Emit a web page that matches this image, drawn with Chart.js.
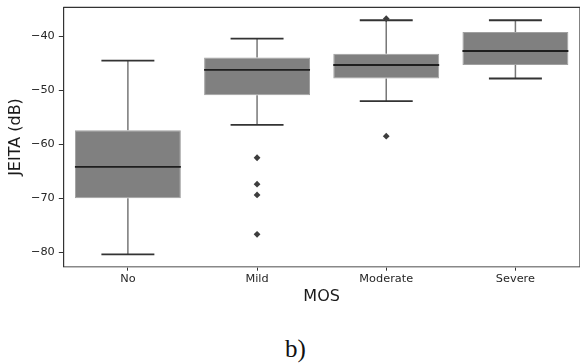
<!DOCTYPE html>
<html>
<head>
<meta charset="utf-8">
<script src="https://cdn.jsdelivr.net/npm/chart.js@4"></script>
<style>
  html, body { margin: 0; padding: 0; background: #fff; width: 580px; height: 364px; overflow: hidden; }
  #wrap { position: relative; width: 580px; height: 364px; }
  canvas { position: absolute; left: 0; top: 0; }
  #caption { position: absolute; left: 285px; top: 336px; font: 25px/25px "Liberation Serif", serif; color: #111; }
</style>
</head>
<body>
<div id="wrap">
  <canvas id="box" width="584" height="310"></canvas>
  <div id="caption">b)</div>
</div>
<script>
// MOS groups and JEITA (dB) box statistics
const categories = ["No", "Mild", "Moderate", "Severe"];
const whiskerLow = [-80.4, -56.4, -52.0, -47.8];
const q1 = [-70.0, -50.9, -47.8, -45.3];
const median = [-64.2, -46.2, -45.3, -42.7];
const q3 = [-57.4, -43.9, -43.2, -39.2];
const whiskerHigh = [-44.5, -40.4, -37.0, -37.0];
const outliers = [
  { x: "Mild", y: -62.5 },
  { x: "Mild", y: -67.4 },
  { x: "Mild", y: -69.4 },
  { x: "Mild", y: -76.7 },
  { x: "Moderate", y: -36.7 },
  { x: "Moderate", y: -58.5 }
];
const yTicks = [-80, -70, -60, -50, -40];

const tickFont = { family: "DejaVu Sans", size: 11.3 };

// whiskers + caps behind the boxes, medians on top of them, frame on top
const boxParts = {
  id: "boxParts",
  beforeDatasetsDraw(chart) {
    const { ctx, scales: { x, y } } = chart;
    const bars = chart.getDatasetMeta(0).data;
    ctx.save();
    categories.forEach((c, i) => {
      const cx = x.getPixelForValue(i);
      const half = bars[i].width / 4;
      ctx.strokeStyle = "#777";
      ctx.lineWidth = 1.5;
      ctx.beginPath();
      ctx.moveTo(cx, y.getPixelForValue(whiskerLow[i]));
      ctx.lineTo(cx, y.getPixelForValue(q1[i]));
      ctx.moveTo(cx, y.getPixelForValue(q3[i]));
      ctx.lineTo(cx, y.getPixelForValue(whiskerHigh[i]));
      ctx.stroke();
      ctx.strokeStyle = "#333";
      ctx.lineWidth = 1.8;
      ctx.beginPath();
      [whiskerLow[i], whiskerHigh[i]].forEach(v => {
        const py = y.getPixelForValue(v);
        ctx.moveTo(cx - half, py);
        ctx.lineTo(cx + half, py);
      });
      ctx.stroke();
    });
    ctx.restore();
  },
  afterDatasetDraw(chart, args) {
    if (args.index !== 0) return;
    const { ctx, scales: { x, y } } = chart;
    const bars = chart.getDatasetMeta(0).data;
    ctx.save();
    ctx.strokeStyle = "#1e1e1e";
    ctx.lineWidth = 1.8;
    ctx.beginPath();
    categories.forEach((c, i) => {
      const cx = x.getPixelForValue(i);
      const half = bars[i].width / 2;
      const py = y.getPixelForValue(median[i]);
      ctx.moveTo(cx - half, py);
      ctx.lineTo(cx + half, py);
    });
    ctx.stroke();
    ctx.restore();
  },
  afterDraw(chart) {
    const { ctx, chartArea: a } = chart;
    ctx.save();
    ctx.strokeStyle = "#333";
    ctx.lineWidth = 1.2;
    ctx.beginPath();
    ctx.moveTo(a.left, a.top);
    ctx.lineTo(a.right, a.top);
    ctx.lineTo(a.right, a.bottom);
    ctx.stroke();
    ctx.restore();
  }
};

new Chart(document.getElementById("box"), {
  type: "bar",
  data: {
    labels: categories,
    datasets: [
      {
        label: "IQR",
        data: categories.map((c, i) => [q1[i], q3[i]]),
        backgroundColor: "#808080",
        borderColor: "#a0a0a0",
        borderWidth: 1,
        borderSkipped: false,
        barPercentage: 0.82,
        categoryPercentage: 1
      },
      {
        type: "scatter",
        label: "outliers",
        data: outliers,
        pointStyle: "rectRot",
        radius: 3.4,
        backgroundColor: "#3d3d3d",
        borderColor: "#3d3d3d",
        borderWidth: 0
      }
    ]
  },
  options: {
    responsive: false,
    animation: false,
    events: [],
    layout: { padding: { top: 7.3, right: 2, left: 0, bottom: 0 } },
    plugins: { legend: { display: false }, tooltip: { enabled: false } },
    scales: {
      x: {
        type: "category",
        offset: true,
        grid: { display: true, offset: false, drawOnChartArea: false, drawTicks: true, tickLength: 4, color: "#333", lineWidth: 1 },
        border: { display: true, color: "#888", width: 1.5 },
        ticks: { font: tickFont, color: "#262626", padding: 2 },
        title: { display: true, text: "MOS", font: { family: "DejaVu Sans", size: 16 }, color: "#1a1a1a", padding: { top: 0, bottom: 4 } },
        afterFit: s => { s.height = 310 - 266.7; s.paddingLeft = 0; s.paddingRight = 0; }
      },
      y: {
        min: -82.7,
        max: -34.6,
        grid: { display: true, drawOnChartArea: false, drawTicks: true, tickLength: 4.5, color: "#333", lineWidth: 1 },
        border: { display: true, color: "#333", width: 1.2 },
        afterBuildTicks: s => { s.ticks = yTicks.map(v => ({ value: v })); },
        ticks: {
          font: tickFont,
          color: "#262626",
          padding: 4,
          callback: v => (v < 0 ? "\u2212" : "") + Math.abs(v)
        },
        title: { display: true, text: "JEITA (dB)", font: { family: "DejaVu Sans", size: 16 }, color: "#1a1a1a", padding: { top: 6, bottom: 0 } },
        afterFit: s => { s.width = 63.3; s.paddingTop = 0; s.paddingBottom = 0; }
      }
    }
  },
  plugins: [boxParts]
});
</script>
</body>
</html>
